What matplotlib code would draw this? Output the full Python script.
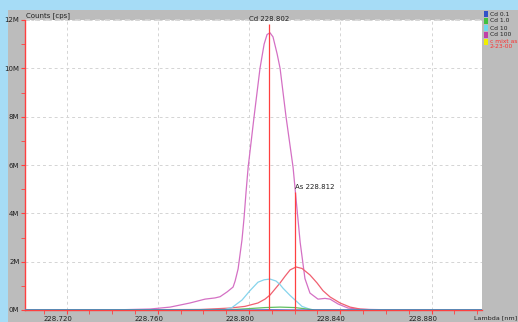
import matplotlib
matplotlib.use("Agg")
import matplotlib.pyplot as plt
from matplotlib.patches import Rectangle
from matplotlib.ticker import MultipleLocator, FuncFormatter

# ---------------------------------------------------------------- data
# wavelength [nm] / counts [Mcps]
cd100_wl = [228.7018, 228.7435, 228.7566, 228.7654, 228.7741, 228.7807, 228.7851,
            228.7873, 228.7904, 228.7930, 228.7939, 228.7952, 228.7969, 228.7978,
            228.7987, 228.7996,
            228.8022, 228.8048, 228.8066, 228.8079, 228.8092, 228.8105, 228.8123,
            228.8136, 228.8162, 228.8193, 228.8206, 228.8224, 228.8245, 228.8267,
            228.8302, 228.8333, 228.8355, 228.8390, 228.8434, 228.8487, 228.8662,
            228.9021]
cd100_ct = [0.0, 0.01, 0.04, 0.12, 0.29, 0.45, 0.50,
            0.55, 0.75, 0.95, 1.2, 1.7, 2.9, 3.8,
            4.9, 5.9,
            8.0, 10.0, 11.0, 11.4, 11.47, 11.3, 10.6,
            10.0, 8.0, 5.9, 4.6, 2.8, 1.3, 0.7,
            0.45, 0.48, 0.45, 0.25, 0.08, 0.03, 0.0,
            0.0]

mix_wl = [228.7018, 228.7785, 228.7917, 228.7982, 228.8039, 228.8070, 228.8092,
          228.8136, 228.8158, 228.8180, 228.8206, 228.8232, 228.8267, 228.8298,
          228.8324, 228.8355, 228.8399, 228.8443, 228.8487, 228.8552, 228.9021]
mix_ct = [0.0, 0.02, 0.08, 0.15, 0.29, 0.45, 0.62,
          1.12, 1.4, 1.66, 1.78, 1.72, 1.45, 1.12,
          0.8, 0.54, 0.29, 0.12, 0.04, 0.0, 0.0]

cd10_wl = [228.7018, 228.7895, 228.7925, 228.7969, 228.8004, 228.8039, 228.8066,
           228.8092, 228.8118, 228.8136, 228.8149, 228.8180, 228.8202, 228.8232,
           228.8267, 228.8289, 228.9021]
cd10_ct = [0.0, 0.02, 0.1, 0.41, 0.8, 1.15, 1.25,
           1.28, 1.2, 1.05, 0.9, 0.6, 0.41, 0.15,
           0.03, 0.0, 0.0]

cd1_wl = [228.7018, 228.7917, 228.8004, 228.8070, 228.8136, 228.8202, 228.8245,
          228.8289, 228.9021]
cd1_ct = [0.0, 0.01, 0.06, 0.1, 0.12, 0.1, 0.05, 0.0, 0.0]

cd01_wl = [228.7018, 228.8000, 228.8092, 228.8180, 228.9021]
cd01_ct = [0.0, 0.0, 0.01, 0.0, 0.0]

line_wl = [228.8088, 228.8202]
line_top = [11.85, 4.9]
line_lbl = ["Cd 228.802", "As 228.812"]

legend_lbl = ["Cd 0.1", "Cd 1.0", "Cd 10", "Cd 100", "c mixt as\n2-23-00"]
legend_col = ["#3050c8", "#40c040", "#70d8f0", "#c040a8", "#f0f000"]

# ---------------------------------------------------------------- figure
W, H = 518, 322
fig = plt.figure(figsize=(W / 100, H / 100), dpi=100, facecolor="#a6dcf6")
# grey panel behind everything
fig.patches.append(Rectangle((8 / W, 0), 1, 1 - 10 / H, transform=fig.transFigure,
                             facecolor="#bcbcbc", edgecolor="none", zorder=-10))

ax = fig.add_axes([25 / W, 12 / H, 457 / W, 290 / H])
ax.set_facecolor("white")

ax.plot(cd100_wl, cd100_ct, color="#d470c4", lw=0.9, zorder=3)
ax.plot(mix_wl, mix_ct, color="#f06070", lw=0.9, zorder=3)
ax.plot(cd10_wl, cd10_ct, color="#86d4ec", lw=0.9, zorder=3)
ax.plot(cd1_wl, cd1_ct, color="#60c060", lw=0.9, zorder=3)
ax.plot(cd01_wl, cd01_ct, color="#4a6ad0", lw=0.9, zorder=3)

for x, top in zip(line_wl, line_top):
    ax.vlines(x, 0, top, color="#ff4040", lw=0.9, zorder=4)
for x, top, lbl, ha in zip(line_wl, line_top, line_lbl, ["center", "left"]):
    ax.text(x, top + 0.08, lbl, ha=ha, va="bottom", fontsize=5, color="#202020")

ax.set_xlim(228.7018, 228.9021)
ax.set_ylim(0, 12)
ax.xaxis.set_major_locator(MultipleLocator(0.04))
ax.xaxis.set_minor_locator(MultipleLocator(0.01))
ax.yaxis.set_major_locator(MultipleLocator(2))
ax.yaxis.set_minor_locator(MultipleLocator(1))
ax.xaxis.set_major_formatter(FuncFormatter(lambda v, p: f"{v:.3f}"))
ax.yaxis.set_major_formatter(FuncFormatter(lambda v, p: f"{v:.0f}M"))
ax.grid(True, which="major", color="#d4d4d4", ls=(0, (3, 3)), lw=0.7)
ax.axhline(12, color="#d4d4d4", ls=(0, (3, 3)), lw=1.2, clip_on=False)

for s in ["top", "right"]:
    ax.spines[s].set_visible(False)
for s in ["left", "bottom"]:
    ax.spines[s].set_color("#ff4040")
    ax.spines[s].set_linewidth(1.0)
ax.tick_params(which="both", colors="#ff4040", labelcolor="#202020",
               labelsize=5, pad=1.0, length=3)
for t in ax.get_xticklabels():
    t.set_ha("center")
    t.set_x(0)
ax.tick_params(axis="x", pad=1.5)
# x labels sit a little left of their tick, as in the original software
import matplotlib.transforms as mtrans
off = mtrans.ScaledTranslation(-9 / 100, 0, fig.dpi_scale_trans)
for t in ax.get_xticklabels():
    t.set_transform(t.get_transform() + off)

fig.text(26 / W, 1 - 16 / H, "Counts [cps]", fontsize=5, color="#202020",
         va="center", ha="left")
fig.text(517 / W, 1 - 318 / H, "Lambda [nm]", fontsize=4.6, color="#202020",
         va="center", ha="right")

# legend in the grey margin
ys = [14, 21, 28, 35, 42]
for y, lbl, col in zip(ys, legend_lbl, legend_col):
    fig.patches.append(Rectangle((484 / W, 1 - (y + 3) / H), 4 / W, 6 / H,
                                 transform=fig.transFigure, facecolor=col,
                                 edgecolor="none", zorder=2))
    two = "\n" in lbl
    fig.text(490 / W, 1 - (y - 3 if two else y) / H, lbl, fontsize=4.3,
             color="#ff3030" if two else "#202020",
             va="top" if two else "center", ha="left", linespacing=1.0)

fig.savefig("out.png", dpi=100, facecolor=fig.get_facecolor())
